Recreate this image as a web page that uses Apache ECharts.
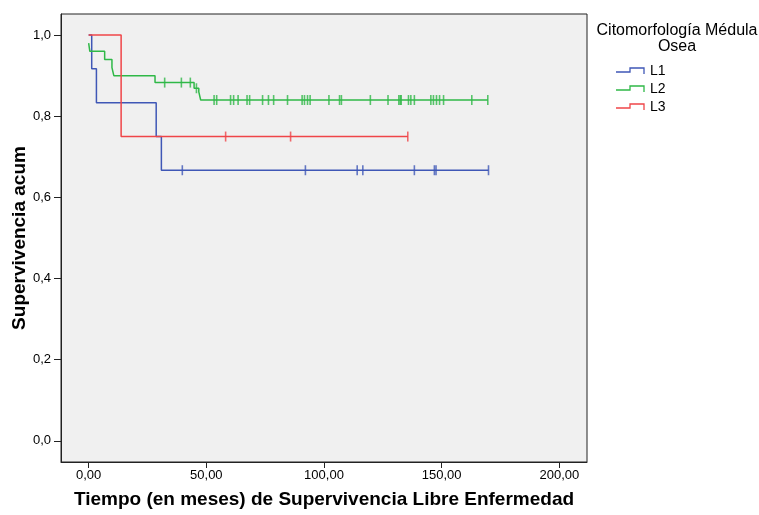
<!DOCTYPE html>
<html>
<head>
<meta charset="utf-8">
<script src="https://cdn.jsdelivr.net/npm/echarts@6/dist/echarts.min.js"></script>
<style>
html,body{margin:0;padding:0;background:#fff;}
#c{width:759px;height:515px;}
</style>
</head>
<body>
<div id="c"></div>
<script>
// ---- data ----
const groupNames = ['L1', 'L2', 'L3'];
const legendTitle = 'Citomorfología Médula\nOsea';
const xTitle = 'Tiempo (en meses) de Supervivencia Libre Enfermedad';
const yTitle = 'Supervivencia acum';
const xTicks = [0, 50, 100, 150, 200];
const yTicks = [0, 0.2, 0.4, 0.6, 0.8, 1.0];

// L1
const l1Start = 1.0;
const l1EventTimes = [1.3, 3.3, 28.7, 30.9];
const l1EventSurv = [0.917, 0.833, 0.750, 0.667];
const l1CensorTimes = [39.8, 92.1, 114.1, 116.5, 138.4, 146.9, 147.6, 169.9];

// L2
const l2Start = 0.98;
const l2EventTimes = [0.5, 6.8, 9.9, 10.7, 28.2, 44.8, 46.8, 47.6];
const l2EventSurv = [0.96, 0.94, 0.92, 0.90, 0.883, 0.869, 0.86, 0.84];
const l2CensorTimes = [32.3, 39.4, 43.2, 45.8, 53.3, 54.4, 60.3, 61.6, 63.5, 67.3, 68.4, 73.9,
  76.4, 78.6, 84.5, 90.7, 91.7, 93.0, 94.1, 102.1, 106.6, 107.4, 119.7, 127.2, 131.8, 132.4,
  132.8, 135.9, 136.9, 138.4, 145.4, 146.5, 147.8, 149.1, 150.8, 162.8, 169.6];

// L3
const l3Start = 1.0;
const l3EventTimes = [13.8];
const l3EventSurv = [0.75];
const l3CensorTimes = [58.2, 85.8, 135.6];

const colors = ['#3f57b6', '#2fb847', '#ef4548'];
const FONT = "'Liberation Sans', Arial, sans-serif";

function survAt(start, times, surv, t) {
  let s = start;
  for (let i = 0; i < times.length; i++) if (times[i] <= t) s = surv[i];
  return s;
}
function curve(start, times, surv, censors) {
  const pts = [[0, start]];
  for (let i = 0; i < times.length; i++) pts.push([times[i], surv[i]]);
  const last = Math.max(times[times.length - 1], censors.length ? censors[censors.length - 1] : 0);
  pts.push([last, survAt(start, times, surv, last)]);
  return pts;
}
function censorPts(start, times, surv, censors) {
  return censors.map(t => [t, survAt(start, times, surv, t)]);
}

const groups = [
  [l1Start, l1EventTimes, l1EventSurv, l1CensorTimes],
  [l2Start, l2EventTimes, l2EventSurv, l2CensorTimes],
  [l3Start, l3EventTimes, l3EventSurv, l3CensorTimes]
];

const series = [];
groups.forEach((g, i) => {
  series.push({
    name: groupNames[i], type: 'line', step: 'end', showSymbol: false, silent: true,
    data: curve(...g), lineStyle: { color: colors[i], width: 1.5 }, z: 2 + i, animation: false
  });
  series.push({
    name: groupNames[i] + '_c', type: 'scatter', symbol: 'rect', symbolSize: [1.6, 10],
    data: censorPts(...g), itemStyle: { color: colors[i] }, z: 2 + i, animation: false, silent: true
  });
});

const GL = 61, GT = 14, GW = 526, GH = 448;
const legendX = 616, legendY0 = 72, legendDY = 18;
const graphics = [{
  type: 'text', x: 677, y: 23,
  style: { text: legendTitle, font: '16px ' + FONT, fill: '#000', align: 'center', verticalAlign: 'top', lineHeight: 16 }
}];
groupNames.forEach((n, i) => {
  const y = legendY0 + i * legendDY;
  graphics.push({
    type: 'polyline', silent: true,
    shape: { points: [[legendX, y], [legendX + 14, y], [legendX + 14, y - 4], [legendX + 28, y - 4], [legendX + 28, y + 2]] },
    style: { stroke: colors[i], lineWidth: 1.3, fill: null }
  });
  graphics.push({
    type: 'text', x: legendX + 34, y: y - 1,
    style: { text: n, font: '14px ' + FONT, fill: '#000', verticalAlign: 'middle' }
  });
});

const chart = echarts.init(document.getElementById('c'), null, { renderer: 'canvas' });
chart.setOption({
  animation: false,
  grid: { left: GL, top: GT, width: GW, height: GH, containLabel: false, outerBoundsMode: 'none',
    show: true, backgroundColor: '#f0f0f0', borderColor: '#222', borderWidth: 1 },
  xAxis: {
    type: 'value', min: -11.75, max: 211.75,
    name: xTitle, nameLocation: 'middle', nameGap: 28, nameMoveOverlap: false,
    nameTextStyle: { fontFamily: FONT, fontWeight: 'bold', fontSize: 19, color: '#000' },
    axisLine: { show: true, onZero: false, lineStyle: { color: '#222' } },
    axisTick: { show: true, length: 6, customValues: xTicks, lineStyle: { color: '#222' } },
    axisLabel: { customValues: xTicks, fontFamily: FONT, fontSize: 13, color: '#000', margin: 7,
      formatter: v => v.toFixed(2).replace('.', ',') },
    splitLine: { show: false }
  },
  yAxis: {
    type: 'value', min: -0.052, max: 1.052,
    name: yTitle, nameLocation: 'middle', nameGap: 32, nameMoveOverlap: false,
    nameTextStyle: { fontFamily: FONT, fontWeight: 'bold', fontSize: 19, color: '#000' },
    axisLine: { show: true, onZero: false, lineStyle: { color: '#222' } },
    axisTick: { show: true, length: 7, customValues: yTicks, lineStyle: { color: '#222' } },
    axisLabel: { customValues: yTicks, fontFamily: FONT, fontSize: 13, color: '#000', margin: 10,
      formatter: v => v.toFixed(1).replace('.', ',') },
    splitLine: { show: false }
  },
  graphic: graphics,
  series: series
});
</script>
</body>
</html>
